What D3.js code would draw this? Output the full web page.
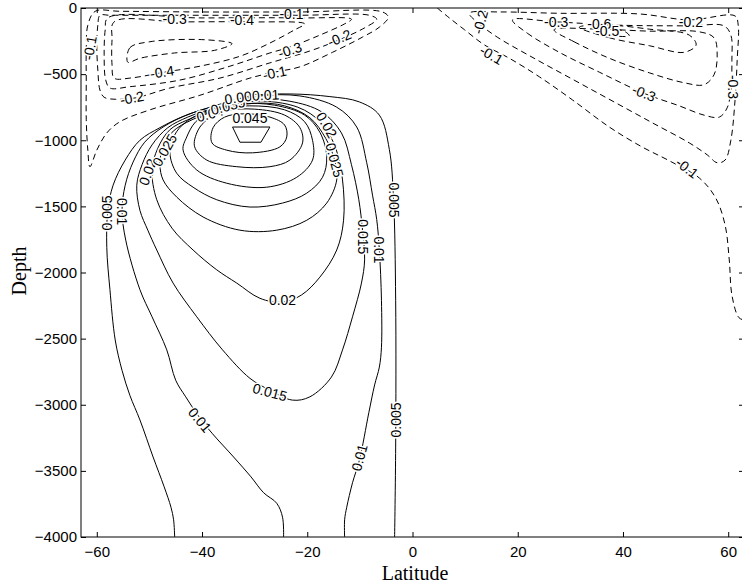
<!DOCTYPE html>
<html>
<head>
<meta charset="utf-8">
<script src="https://cdn.jsdelivr.net/npm/d3@7"></script>
<style>
  html, body { margin: 0; padding: 0; background: #fff; }
  svg { display: block; }
  .tick text { font-family: "Liberation Sans", Arial, sans-serif; font-size: 15px; fill: #000; }
  .clabel { font-family: "Liberation Sans", Arial, sans-serif; font-size: 14px; fill: #000;
            stroke: #fff; stroke-width: 3px; paint-order: stroke; }
</style>
</head>
<body>
<svg id="chart" width="742" height="588"></svg>
<script>
// ---- axis ticks ----
const latTicks = [-60, -40, -20, 0, 20, 40, 60];
const depthTicks = [0, -500, -1000, -1500, -2000, -2500, -3000, -3500, -4000];

// ---- positive (solid) contours: [latitude, depth] ----
const psi005 = [[-3.4,-4000],[-3.2,-3320],[-3.2,-2210],[-3.6,-1450],[-4.4,-1070],[-6.3,-810],[-10.1,-710],
  [-15.7,-670],[-23.3,-650],[-30.9,-665],[-37.6,-740],[-43.3,-815],[-48.0,-905],[-51.8,-1000],[-54.6,-1150],
  [-56.9,-1340],[-57.9,-1530],[-58.1,-1810],[-57.5,-2130],[-56.5,-2510],[-55.2,-2740],[-53.7,-2930],
  [-51.8,-3115],[-49.3,-3395],[-47.2,-3620],[-45.9,-3775],[-45.4,-3870],[-45.2,-4000]];
const psi010 = [[-12.9,-4000],[-12.9,-3870],[-12.5,-3775],[-11.4,-3590],[-10.1,-3420],[-8.3,-3060],[-7.2,-2850],
  [-6.3,-2715],[-5.9,-2565],[-5.9,-2210],[-6.3,-1830],[-6.8,-1600],[-7.6,-1415],[-8.7,-1170],[-10.6,-900],
  [-14.4,-750],[-21.4,-665],[-29.0,-665],[-35.7,-725],[-42.3,-800],[-47.4,-900],[-50.9,-1015],[-53.1,-1165],
  [-54.6,-1340],[-55.2,-1530],[-54.5,-1755],[-51.8,-2130],[-49.5,-2335],[-46.7,-2585],[-45.0,-2815],
  [-43.1,-2940],[-40.6,-3090],[-38.1,-3215],[-34.0,-3395],[-30.7,-3545],[-28.3,-3665],[-25.8,-3745],
  [-24.7,-3850],[-24.5,-4000]];
const psi015 = [[-30.9,-690],[-37.6,-755],[-42.7,-825],[-46.5,-905],[-49.5,-1035],[-51.4,-1185],[-52.4,-1340],
  [-51.8,-1530],[-50.3,-1680],[-48.6,-1830],[-45.5,-2080],[-41.0,-2335],[-36.1,-2585],[-30.9,-2800],
  [-27.1,-2890],[-22.8,-2965],[-19.5,-2940],[-15.4,-2790],[-13.3,-2585],[-11.4,-2335],[-9.7,-2080],
  [-9.1,-1905],[-9.5,-1680],[-10.2,-1450],[-11.6,-1185],[-13.5,-945],[-17.3,-785],[-23.3,-705]];
const psi020 = [[-30.0,-705],[-37.6,-770],[-42.7,-845],[-46.1,-920],[-48.4,-1060],[-49.5,-1225],[-48.6,-1450],
  [-45.7,-1665],[-41.7,-1830],[-37.2,-1980],[-33.4,-2080],[-29.0,-2195],[-24.7,-2225],[-21.1,-2170],
  [-17.6,-2035],[-14.4,-1830],[-13.1,-1605],[-13.3,-1300],[-14.6,-1060],[-17.3,-870],[-21.8,-750]];
const psi025 = [[-47.4,-1300],[-44.8,-1430],[-39.8,-1580],[-32.8,-1680],[-25.8,-1680],[-20.1,-1605],
  [-16.3,-1475],[-14.4,-1300],[-14.8,-1150],[-16.5,-985],[-19.5,-830],[-24.3,-740],[-30.0,-720],
  [-36.6,-770],[-41.9,-845],[-45.7,-940],[-47.6,-1075],[-48.0,-1185]];
const psi030 = [[-45.2,-960],[-46.1,-1095],[-44.8,-1250],[-41.7,-1355],[-37.2,-1450],[-30.9,-1505],
  [-24.7,-1475],[-20.1,-1400],[-17.1,-1280],[-16.3,-1125],[-17.6,-940],[-20.5,-810],[-26.2,-735],
  [-32.8,-725],[-39.5,-785],[-43.3,-870]];
const psi035 = [[-42.9,-975],[-43.6,-1075],[-41.0,-1225],[-35.3,-1325],[-27.7,-1355],[-22.0,-1280],
  [-19.0,-1150],[-19.0,-1000],[-20.5,-860],[-24.3,-770],[-30.9,-740],[-37.6,-770],[-41.2,-860]];
const psi040 = [[-41.0,-945],[-41.4,-1050],[-39.1,-1150],[-33.4,-1200],[-27.1,-1200],[-23.3,-1150],
  [-20.9,-1020],[-21.4,-905],[-24.3,-810],[-30.0,-765],[-35.7,-780],[-39.5,-860]];
const psi045 = [[-37.9,-905],[-38.1,-1020],[-35.3,-1075],[-30.4,-1095],[-25.2,-1050],[-23.9,-975],
  [-24.3,-885],[-27.1,-825],[-31.9,-800],[-35.7,-825]];
const psi050 = [[-34.2,-900],[-27.1,-900],[-28.8,-1015],[-32.8,-1015]];

// ---- negative (dashed) contours, southern cell ----
const negS1 = [[-60.3,-25],[-61.7,-130],[-62.0,-320],[-62.0,-545],[-62.0,-845],[-61.7,-1075],[-61.3,-1200],
  [-60.0,-1075],[-58.1,-945],[-55.6,-860],[-49.9,-770],[-40.4,-660],[-30.9,-530],[-26.2,-485],[-21.4,-445],
  [-15.2,-335],[-9.5,-220],[-6.3,-145],[-4.6,-70],[-5.7,-30],[-21.4,-30],[-40.4,-30],[-55.6,-25]];
const negS2 = [[-59.4,-55],[-59.8,-130],[-60.0,-280],[-59.8,-470],[-59.4,-620],[-58.6,-675],[-56.5,-690],
  [-52.7,-680],[-46.1,-605],[-36.6,-530],[-27.1,-415],[-19.5,-325],[-13.9,-240],[-9.1,-150],[-6.8,-85],
  [-8.2,-55],[-21.4,-55],[-40.4,-55],[-57.5,-55]];
const negS3 = [[-57.9,-75],[-58.4,-165],[-58.6,-355],[-58.3,-545],[-57.5,-605],[-53.7,-595],[-44.2,-545],
  [-34.7,-440],[-27.1,-340],[-23.3,-295],[-17.6,-205],[-12.9,-120],[-11.6,-85],[-21.4,-75],[-40.4,-75]];
const negS4 = [[-56.7,-105],[-57.1,-240],[-57.1,-430],[-56.7,-530],[-53.7,-530],[-47.1,-485],[-40.4,-440],
  [-32.8,-365],[-27.1,-265],[-22.4,-165],[-20.5,-120],[-30.9,-105],[-44.2,-105]];
const negS5 = [[-54.1,-410],[-53.7,-300],[-49.9,-255],[-39.5,-240],[-34.3,-270],[-37.6,-320],[-45.2,-340],
  [-51.8,-380]];

// ---- negative (dashed) contours, northern cell ----
const negN1 = [[4.7,0],[7.0,-75],[9.9,-165],[13.7,-280],[18.4,-380],[24.1,-520],[30.4,-695],[37.4,-900],
  [43.6,-1050],[48.8,-1155],[54.5,-1285],[57.6,-1435],[59.4,-1640],[60.2,-1905],[60.7,-2170],[62.0,-2340],
  [63.0,-2360]];
const negN2 = [[10.8,-40],[12.7,-120],[16.1,-220],[23.1,-380],[30.7,-545],[38.3,-710],[45.9,-875],[52.6,-1020],
  [56.0,-1110],[57.9,-1170],[59.4,-1150],[60.5,-1000],[61.3,-695],[61.7,-395],[61.9,-130],[61.3,-60],
  [52.6,-90],[43.1,-45],[27.9,-40],[16.5,-30]];
const negN3 = [[19.0,-90],[21.8,-190],[27.9,-335],[35.5,-485],[44.0,-645],[50.7,-740],[55.4,-810],[58.3,-825],
  [59.8,-755],[60.5,-620],[60.7,-395],[60.5,-205],[59.2,-135],[52.6,-135],[39.3,-130],[27.3,-105]];
const negN4 = [[26.9,-165],[30.7,-255],[37.4,-380],[45.0,-490],[51.6,-565],[55.4,-580],[57.3,-505],[57.9,-355],
  [57.3,-225],[54.5,-180],[45.0,-175],[35.5,-160]];
const negN5 = [[31.7,-145],[37.4,-225],[45.0,-285],[51.6,-335],[53.9,-280],[52.6,-205],[45.0,-160],[37.4,-130]];
const negN6 = [[34.5,-165],[37.4,-205],[41.2,-210],[40.2,-175],[36.4,-160]];

// ---- contour labels: [text, latitude, depth] ----
const solidLabels = [
  ["0.005", -58.1, -1550], ["0.01", -55.2, -1540], ["0.02", -50.3, -1240], ["0.025", -47.1, -1075],
  ["0.02", -24.7, -2208], ["0.015", -27.1, -2905], ["0.01", -40.4, -3115], ["0.01", -10.1, -3400],
  ["0.005", -3.2, -3115], ["0.005", -3.6, -1452], ["0.01", -6.3, -1830], ["0.015", -9.5, -1730],
  ["0.02", -16.3, -885], ["0.025", -14.8, -1150], ["0.045", -30.9, -832], ["0.04", -38.5, -800],
  ["0.035", -35.1, -741], ["0.005", -32.4, -673], ["0.01", -27.9, -658]];
const solidLabelAngles = [-90, 90, -70, -60, 0, 15, 50, -75, -90, 90, 90, 90, 60, 75, 0, -15, -15, -8, -3];

const dashedLabels = [
  ["-0.1", -61.3, -302], ["-0.4", -47.6, -484], ["-0.2", -53.3, -680], ["-0.3", -45.2, -80],
  ["-0.4", -32.4, -91], ["-0.1", -23.0, -45], ["-0.3", -23.3, -318], ["-0.2", -13.9, -227],
  ["-0.1", -26.2, -491], ["-0.2", 12.9, -106], ["-0.1", 15.0, -355], ["-0.3", 27.3, -106],
  ["-0.6", 35.5, -121], ["-0.5", 37.0, -174], ["-0.2", 52.9, -106], ["-0.3", 44.0, -643],
  ["-0.1", 52.2, -1210], ["-0.3", 60.9, -597]];
const dashedLabelAngles = [-80, -8, -10, 0, 0, 0, -18, -22, -12, -75, 30, 0, 0, 0, 0, 22, 38, 90];

const solidLines = [
  { pts: psi005, closed: false }, { pts: psi010, closed: false }, { pts: psi015, closed: true },
  { pts: psi020, closed: true }, { pts: psi025, closed: true }, { pts: psi030, closed: true },
  { pts: psi035, closed: true }, { pts: psi040, closed: true }, { pts: psi045, closed: true },
  { pts: psi050, closed: true, polygon: true }];
const dashedLines = [
  { pts: negS1, closed: true }, { pts: negS2, closed: true }, { pts: negS3, closed: true },
  { pts: negS4, closed: true }, { pts: negS5, closed: true },
  { pts: negN1, closed: false }, { pts: negN2, closed: true }, { pts: negN3, closed: true },
  { pts: negN4, closed: true }, { pts: negN5, closed: true }, { pts: negN6, closed: true }];

// ---- drawing ----
const svg = d3.select("#chart");
const X0 = 81, X1 = 744, Y0 = 8, Y1 = 537;
const x = d3.scaleLinear().domain([-63, 63]).range([X0, X1]);
const y = d3.scaleLinear().domain([-4000, 0]).range([Y1, Y0]);

svg.append("defs").append("clipPath").attr("id", "plotArea")
  .append("rect").attr("x", X0).attr("y", Y0).attr("width", X1 - X0).attr("height", Y1 - Y0);

const plot = svg.append("g").attr("clip-path", "url(#plotArea)");

const pathFor = (c) => {
  const curve = c.polygon ? d3.curveLinearClosed
    : (c.closed ? d3.curveCatmullRomClosed.alpha(0.5) : d3.curveCatmullRom.alpha(0.5));
  return d3.line().x(d => x(d[0])).y(d => y(d[1])).curve(curve)(c.pts);
};

plot.selectAll("path.solid").data(solidLines).join("path")
  .attr("class", "solid").attr("d", pathFor)
  .attr("fill", "none").attr("stroke", "#000").attr("stroke-width", 1);

plot.selectAll("path.dashed").data(dashedLines).join("path")
  .attr("class", "dashed").attr("d", pathFor)
  .attr("fill", "none").attr("stroke", "#000").attr("stroke-width", 1)
  .attr("stroke-dasharray", "6,4");

function drawLabels(list, angles) {
  plot.selectAll(null).data(list).join("text")
    .attr("class", "clabel")
    .attr("text-anchor", "middle")
    .attr("dominant-baseline", "central")
    .attr("transform", (d, i) => `translate(${x(d[1])},${y(d[2])}) rotate(${angles[i]})`)
    .text(d => d[0]);
}
drawLabels(solidLabels, solidLabelAngles);
drawLabels(dashedLabels, dashedLabelAngles);

// frame
svg.append("rect").attr("x", X0).attr("y", Y0).attr("width", X1 - X0).attr("height", Y1 - Y0)
  .attr("fill", "none").attr("stroke", "#000").attr("stroke-width", 1);

// axes (ticks point inward)
const intFmt = d3.format("d");
const axBottom = svg.append("g").attr("transform", `translate(0,${Y1})`)
  .call(d3.axisBottom(x).tickValues(latTicks).tickFormat(intFmt)
    .tickSizeInner(-5).tickSizeOuter(0).tickPadding(9));
const axTop = svg.append("g").attr("transform", `translate(0,${Y0})`)
  .call(d3.axisTop(x).tickValues(latTicks).tickSizeInner(-5).tickSizeOuter(0).tickFormat(""));
const axLeft = svg.append("g").attr("transform", `translate(${X0},0)`)
  .call(d3.axisLeft(y).tickValues(depthTicks).tickFormat(intFmt)
    .tickSizeInner(-5).tickSizeOuter(0).tickPadding(4));
const axRight = svg.append("g").attr("transform", `translate(${X1},0)`)
  .call(d3.axisRight(y).tickValues(depthTicks).tickSizeInner(-5).tickSizeOuter(0).tickFormat(""));
[axBottom, axTop, axLeft, axRight].forEach(a => {
  a.select(".domain").remove();
  a.selectAll(".tick line").attr("stroke", "#000");
});

// axis titles
svg.append("text").attr("x", 415).attr("y", 580).attr("text-anchor", "middle")
  .attr("font-family", "'Liberation Serif', 'Times New Roman', serif").attr("font-size", 20)
  .text("Latitude");
svg.append("text").attr("transform", "translate(26,271) rotate(-90)").attr("text-anchor", "middle")
  .attr("font-family", "'Liberation Serif', 'Times New Roman', serif").attr("font-size", 20)
  .text("Depth");
</script>
</body>
</html>
